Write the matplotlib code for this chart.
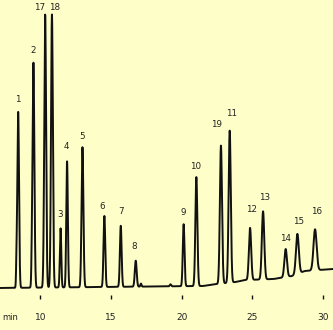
import numpy as np
import matplotlib
matplotlib.use("Agg")
import matplotlib.pyplot as plt

# Peak data (retention time in min, height above baseline, width sigma in min)
peak_labels = ["1", "2", "17", "18", "3", "4", "5", "6", "7", "8",
               "9", "10", "19", "11", "12", "13", "14", "15", "16"]
peak_times = [8.42, 9.50, 10.33, 10.81, 11.42, 11.88, 12.97, 14.52, 15.68, 16.74,
              20.13, 21.03, 22.77, 23.39, 24.83, 25.75, 27.35, 28.18, 29.43]
peak_heights = [176, 225, 273, 273, 59, 126, 140, 71, 61, 26,
                62, 109, 138, 152, 52, 68, 28, 40, 41]
peak_sigmas = [0.06, 0.065, 0.065, 0.065, 0.05, 0.055, 0.065, 0.06, 0.06, 0.065,
               0.06, 0.07, 0.075, 0.075, 0.08, 0.085, 0.09, 0.1, 0.11]

# small shoulders / bumps
minor_times = [8.30, 9.38, 17.11, 19.2]
minor_heights = [18, 14, 3, 2]
minor_sigmas = [0.03, 0.03, 0.04, 0.05]

# baseline drift knots
base_t = [7.1, 21.5, 22.5, 23.8, 24.5, 26.5, 27.8, 28.7, 30.7]
base_y = [42, 44, 46, 48, 50, 51, 54, 59, 61]

# label placement relative to apex (pixels)
label_dx = [0, 0, -6, 3, 0, -1, 0, -2, 0, -2, 0, -1, -4, 2, 1, 2, 0, 1, 1]
label_dy = [12, 12, 7, 7, 14, 15, 11, 9, 14, 14, 12, 11, 21, 17, 18, 14, 11, 12, 18]

ticks = [10, 15, 20, 25, 30]
tick_labels = ["10", "15", "20", "25", "30"]

PX = 14.13  # pixels per minute
bg = "#FEFEC8"
fig = plt.figure(figsize=(3.33, 3.30), dpi=100, facecolor=bg)
ax = fig.add_axes([0, 0, 1, 1], facecolor=bg)
ax.set_xlim(7.134, 30.70)
ax.set_ylim(0, 330)
ax.axis("off")

t = np.linspace(7.134, 30.70, 8000)
baseline = np.interp(t, base_t, base_y)
sig = baseline.copy()
for tp, h, s in zip(peak_times, peak_heights, peak_sigmas):
    sig += h * np.exp(-0.5 * ((t - tp) / s) ** 2)
for tp, h, s in zip(minor_times, minor_heights, minor_sigmas):
    sig += h * np.exp(-0.5 * ((t - tp) / s) ** 2)
ax.plot(t, sig, color="#111111", lw=1.4, solid_joinstyle="round")

for lab, tp, h, dx, dy in zip(peak_labels, peak_times, peak_heights, label_dx, label_dy):
    by = np.interp(tp, base_t, base_y)
    ax.text(tp + dx / PX, by + h + dy, lab, ha="center", va="center",
            fontsize=6.3, color="#222222")

ax.plot(ticks, [33] * len(ticks), linestyle="none", marker="|",
        markersize=2.5, color="#111111", mew=1)
for tk, tl in zip(ticks, tick_labels):
    ax.text(tk, 12, tl, ha="center", va="center", fontsize=6.5, color="#222222")
ax.text(7.134 + 10 / PX, 12, "min", ha="center", va="center",
        fontsize=6, color="#222222")

fig.savefig("out.png", dpi=100, facecolor=bg)
